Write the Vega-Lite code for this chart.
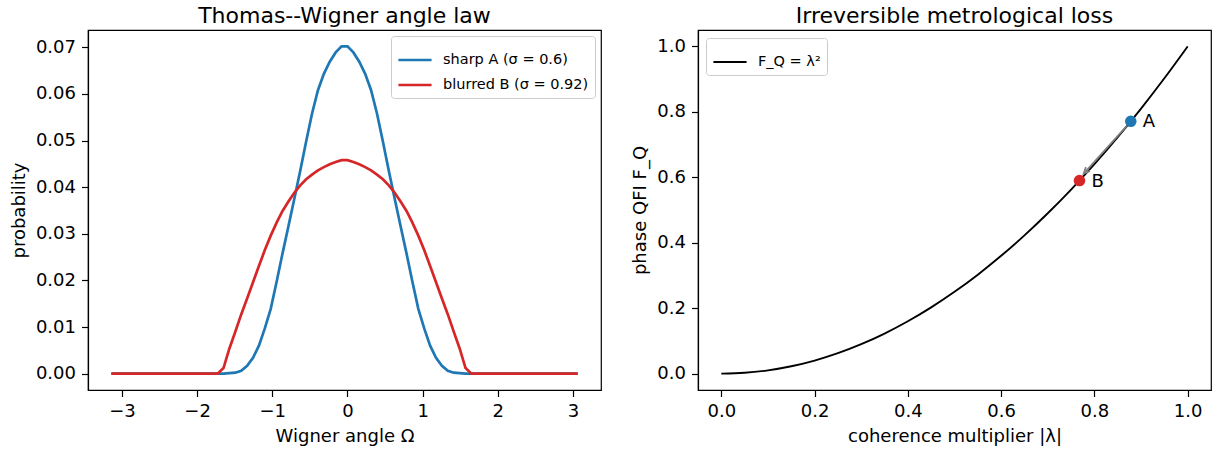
{
  "$schema": "https://vega.github.io/schema/vega-lite/v6.json",
  "padding": {"left": 9, "top": 3, "right": 5, "bottom": 5},
  "background": "white",
  "spacing": 29,
  "config": {
    "font": "DejaVu Sans",
    "view": {"stroke": "black", "strokeWidth": 1.2},
    "axis": {"grid": false, "domainColor": "black", "domainWidth": 1.2, "tickColor": "black", "tickWidth": 1.2, "labelColor": "black", "titleColor": "black", "labelFont": "DejaVu Sans", "titleFont": "DejaVu Sans", "labelFontSize": 18, "titleFontSize": 18, "titleFontWeight": "normal", "tickSize": 6.5, "labelPadding": 6, "titlePadding": 7},
    "title": {"font": "DejaVu Sans", "fontSize": 22, "fontWeight": "normal", "color": "black", "offset": 2.5},
    "legend": {"labelFont": "DejaVu Sans", "labelFontSize": 14.5, "labelColor": "black", "fillColor": "white", "strokeColor": "#cccccc", "cornerRadius": 3, "padding": 6, "symbolType": "stroke", "symbolSize": 1100, "rowPadding": -8, "labelOffset": 10}
  },
  "resolve": {"scale": {"color": "independent"}, "legend": {"color": "independent"}},
  "hconcat": [
    {
      "width": 513,
      "height": 360,
      "title": "Thomas--Wigner angle law",
      "data": {"values": [
        {"w": -3.1416, "a": 0, "b": 0}, {"w": -3.0631, "a": 0, "b": 0}, {"w": -2.9845, "a": 0, "b": 0}, {"w": -2.906, "a": 0, "b": 0},
        {"w": -2.8274, "a": 0, "b": 0}, {"w": -2.7489, "a": 0, "b": 0}, {"w": -2.6704, "a": 0, "b": 0}, {"w": -2.5918, "a": 0, "b": 0},
        {"w": -2.5133, "a": 0, "b": 0}, {"w": -2.4347, "a": 0, "b": 0}, {"w": -2.3562, "a": 0, "b": 0}, {"w": -2.2777, "a": 0, "b": 0},
        {"w": -2.1991, "a": 0, "b": 0}, {"w": -2.1206, "a": 0, "b": 0}, {"w": -2.042, "a": 0, "b": 0}, {"w": -1.9635, "a": 0, "b": 0},
        {"w": -1.885, "a": 0, "b": 0}, {"w": -1.8064, "a": 0, "b": 0}, {"w": -1.7279, "a": 0, "b": 0}, {"w": -1.6493, "a": 0, "b": 0.0012},
        {"w": -1.5708, "a": 0.0001, "b": 0.0054}, {"w": -1.4923, "a": 0.0002, "b": 0.009}, {"w": -1.4137, "a": 0.0006, "b": 0.0127}, {"w": -1.3352, "a": 0.0017, "b": 0.0161},
        {"w": -1.2566, "a": 0.0034, "b": 0.0196}, {"w": -1.1781, "a": 0.006, "b": 0.0231}, {"w": -1.0996, "a": 0.0097, "b": 0.0265}, {"w": -1.021, "a": 0.0139, "b": 0.0296},
        {"w": -0.9425, "a": 0.0197, "b": 0.0324}, {"w": -0.8639, "a": 0.0258, "b": 0.0349}, {"w": -0.7854, "a": 0.0316, "b": 0.0369}, {"w": -0.7069, "a": 0.0375, "b": 0.0388},
        {"w": -0.6283, "a": 0.0435, "b": 0.0404}, {"w": -0.5498, "a": 0.0498, "b": 0.0417}, {"w": -0.4712, "a": 0.0558, "b": 0.0427}, {"w": -0.3927, "a": 0.0608, "b": 0.0436},
        {"w": -0.3142, "a": 0.0643, "b": 0.0443}, {"w": -0.2356, "a": 0.0669, "b": 0.0449}, {"w": -0.1571, "a": 0.0689, "b": 0.0454}, {"w": -0.0785, "a": 0.0702, "b": 0.0458},
        {"w": 0, "a": 0.0702, "b": 0.0458}, {"w": 0.0785, "a": 0.0689, "b": 0.0454}, {"w": 0.1571, "a": 0.0669, "b": 0.0449}, {"w": 0.2356, "a": 0.0643, "b": 0.0443},
        {"w": 0.3142, "a": 0.0608, "b": 0.0436}, {"w": 0.3927, "a": 0.0558, "b": 0.0427}, {"w": 0.4712, "a": 0.0498, "b": 0.0417}, {"w": 0.5498, "a": 0.0435, "b": 0.0404},
        {"w": 0.6283, "a": 0.0375, "b": 0.0388}, {"w": 0.7069, "a": 0.0316, "b": 0.0369}, {"w": 0.7854, "a": 0.0258, "b": 0.0349}, {"w": 0.8639, "a": 0.0197, "b": 0.0324},
        {"w": 0.9425, "a": 0.0139, "b": 0.0296}, {"w": 1.021, "a": 0.0097, "b": 0.0265}, {"w": 1.0996, "a": 0.006, "b": 0.0231}, {"w": 1.1781, "a": 0.0034, "b": 0.0196},
        {"w": 1.2566, "a": 0.0017, "b": 0.0161}, {"w": 1.3352, "a": 0.0006, "b": 0.0127}, {"w": 1.4137, "a": 0.0002, "b": 0.009}, {"w": 1.4923, "a": 0.0001, "b": 0.0054},
        {"w": 1.5708, "a": 0, "b": 0.0012}, {"w": 1.6493, "a": 0, "b": 0}, {"w": 1.7279, "a": 0, "b": 0}, {"w": 1.8064, "a": 0, "b": 0},
        {"w": 1.885, "a": 0, "b": 0}, {"w": 1.9635, "a": 0, "b": 0}, {"w": 2.042, "a": 0, "b": 0}, {"w": 2.1206, "a": 0, "b": 0},
        {"w": 2.1991, "a": 0, "b": 0}, {"w": 2.2777, "a": 0, "b": 0}, {"w": 2.3562, "a": 0, "b": 0}, {"w": 2.4347, "a": 0, "b": 0},
        {"w": 2.5133, "a": 0, "b": 0}, {"w": 2.5918, "a": 0, "b": 0}, {"w": 2.6704, "a": 0, "b": 0}, {"w": 2.7489, "a": 0, "b": 0},
        {"w": 2.8274, "a": 0, "b": 0}, {"w": 2.906, "a": 0, "b": 0}, {"w": 2.9845, "a": 0, "b": 0}, {"w": 3.0631, "a": 0, "b": 0}
      ]},
      "transform": [{"fold": ["a", "b"], "as": ["series", "p"]}],
      "mark": {"type": "line", "strokeWidth": 2.7, "clip": true},
      "encoding": {
        "x": {"field": "w", "type": "quantitative", "title": "Wigner angle Ω", "scale": {"domain": [-3.452, 3.373], "nice": false, "zero": false}, "axis": {"values": [-3, -2, -1, 0, 1, 2, 3], "format": "d"}},
        "y": {"field": "p", "type": "quantitative", "title": "probability", "scale": {"domain": [-0.00351, 0.07371], "nice": false}, "axis": {"values": [0, 0.01, 0.02, 0.03, 0.04, 0.05, 0.06, 0.07], "format": ".2f"}},
        "color": {"field": "series", "type": "nominal", "scale": {"domain": ["a", "b"], "range": ["#1f77b4", "#d62728"]},
          "legend": {"title": null, "orient": "top-right", "offset": 6, "symbolStrokeWidth": 2.7, "labelExpr": "datum.value == 'a' ? 'sharp A (σ = 0.6)' : 'blurred B (σ = 0.92)'"}}
      }
    },
    {
      "width": 513,
      "height": 360,
      "title": "Irreversible metrological loss",
      "layer": [
        {
          "data": {"values": [
            {"lam": 0, "fq": 0}, {"lam": 0.05, "fq": 0.0025}, {"lam": 0.1, "fq": 0.01}, {"lam": 0.15, "fq": 0.0225},
            {"lam": 0.2, "fq": 0.04}, {"lam": 0.25, "fq": 0.0625}, {"lam": 0.3, "fq": 0.09}, {"lam": 0.35, "fq": 0.1225},
            {"lam": 0.4, "fq": 0.16}, {"lam": 0.45, "fq": 0.2025}, {"lam": 0.5, "fq": 0.25}, {"lam": 0.55, "fq": 0.3025},
            {"lam": 0.6, "fq": 0.36}, {"lam": 0.65, "fq": 0.4225}, {"lam": 0.7, "fq": 0.49}, {"lam": 0.75, "fq": 0.5625},
            {"lam": 0.8, "fq": 0.64}, {"lam": 0.85, "fq": 0.7225}, {"lam": 0.9, "fq": 0.81}, {"lam": 0.95, "fq": 0.9025},
            {"lam": 1, "fq": 1}
          ]},
          "mark": {"type": "line", "strokeWidth": 1.9, "interpolate": "monotone"},
          "encoding": {
            "x": {"field": "lam", "type": "quantitative", "title": "coherence multiplier |λ|", "scale": {"domain": [-0.05, 1.05], "nice": false, "zero": false}, "axis": {"values": [0, 0.2, 0.4, 0.6, 0.8, 1.0], "format": ".1f"}},
            "y": {"field": "fq", "type": "quantitative", "title": "phase QFI F_Q", "scale": {"domain": [-0.05, 1.05], "nice": false, "zero": false}, "axis": {"values": [0, 0.2, 0.4, 0.6, 0.8, 1.0], "format": ".1f"}},
            "color": {"datum": "F_Q = λ²", "type": "nominal", "scale": {"range": ["black"]},
              "legend": {"title": null, "orient": "top-left", "offset": 8, "symbolStrokeWidth": 1.9}}
          }
        },
        {
          "data": {"values": [{"x1": 0.870, "y1": 0.758, "x2": 0.777, "y2": 0.611}]},
          "mark": {"type": "rule", "color": "#808080", "strokeWidth": 1.8},
          "encoding": {
            "x": {"field": "x1", "type": "quantitative"},
            "y": {"field": "y1", "type": "quantitative"},
            "x2": {"field": "x2"},
            "y2": {"field": "y2"}
          }
        },
        {
          "data": {"values": [{"x2": 0.777, "y2": 0.611}]},
          "mark": {"type": "point", "shape": "M -0.35 0.8 L 0 0 L 0.35 0.8", "filled": false, "stroke": "#808080", "strokeWidth": 1.8, "size": 250, "angle": 222, "opacity": 1},
          "encoding": {
            "x": {"field": "x2", "type": "quantitative"},
            "y": {"field": "y2", "type": "quantitative"}
          }
        },
        {
          "data": {"values": [{"lab": "A", "lam": 0.878, "fq": 0.771, "col": "#1f77b4"}, {"lab": "B", "lam": 0.768, "fq": 0.59, "col": "#d62728"}]},
          "layer": [
            {
              "mark": {"type": "circle", "size": 135, "opacity": 1},
              "encoding": {
                "x": {"field": "lam", "type": "quantitative"},
                "y": {"field": "fq", "type": "quantitative"},
                "fill": {"field": "col", "type": "nominal", "scale": null}
              }
            },
            {
              "mark": {"type": "text", "align": "left", "baseline": "middle", "dx": 12, "dy": 1, "fontSize": 18, "color": "black"},
              "encoding": {
                "x": {"field": "lam", "type": "quantitative"},
                "y": {"field": "fq", "type": "quantitative"},
                "text": {"field": "lab"}
              }
            }
          ]
        }
      ]
    }
  ]
}
